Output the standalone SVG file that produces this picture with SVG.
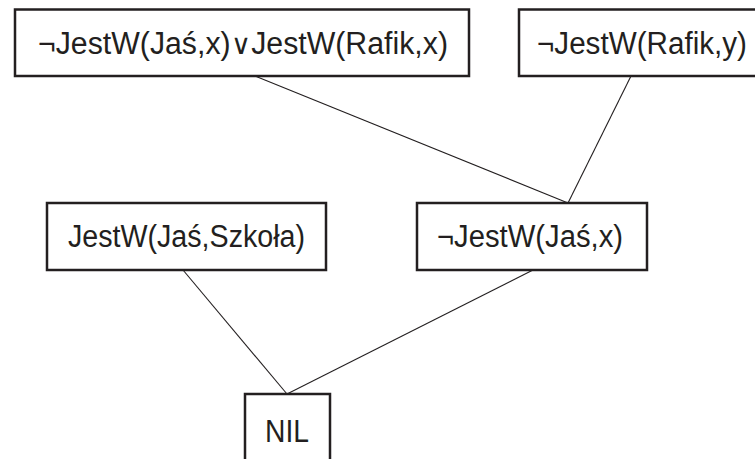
<svg xmlns="http://www.w3.org/2000/svg" width="755" height="459" viewBox="0 0 755 459">
<style>
.box{fill:#fff;stroke:#231f20;stroke-width:2.5}
.t{font-family:"Liberation Sans",Arial,sans-serif;font-size:31px;fill:#231f20;text-anchor:middle}
.o{font-family:"DejaVu Sans",sans-serif;font-weight:200;font-size:28px}
.e{stroke:#231f20;stroke-width:1.1;fill:none}
</style>
<rect width="755" height="459" fill="#fff"/>
<g id="edges">
<line class="e" x1="255" y1="76" x2="568" y2="203"/>
<line class="e" x1="631" y1="76" x2="568" y2="203"/>
<line class="e" x1="183" y1="270" x2="287" y2="394"/>
<line class="e" x1="533" y1="270" x2="287" y2="394"/>
</g>
<g id="n1">
<rect class="box" x="15" y="9.5" width="454" height="66.5"/>
<text class="t" x="243" y="54" textLength="410" lengthAdjust="spacingAndGlyphs">¬JestW(Jaś,x)<tspan class="o">∨</tspan>JestW(Rafik,x)</text>
</g>
<g id="n2">
<rect class="box" x="519" y="9.5" width="245" height="66.5"/>
<text class="t" x="642" y="54" textLength="210" lengthAdjust="spacingAndGlyphs">¬JestW(Rafik,y)</text>
</g>
<g id="n3">
<rect class="box" x="47" y="203" width="279" height="67"/>
<text class="t" x="186.5" y="247" textLength="237" lengthAdjust="spacingAndGlyphs">JestW(Jaś,Szkoła)</text>
</g>
<g id="n4">
<rect class="box" x="417" y="203" width="230" height="67"/>
<text class="t" x="530" y="247" textLength="186" lengthAdjust="spacingAndGlyphs">¬JestW(Jaś,x)</text>
</g>
<g id="n5">
<rect class="box" x="245" y="394" width="85" height="80"/>
<text class="t" x="287" y="442" textLength="44" lengthAdjust="spacingAndGlyphs">NIL</text>
</g>
</svg>
